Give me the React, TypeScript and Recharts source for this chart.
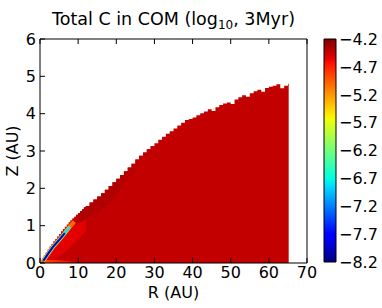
import React from "react";
import { ComposedChart, Area, Line, XAxis, YAxis, BarChart, Bar } from "recharts";

const FONT = "DejaVu Sans, sans-serif";

// axes
const xTicks = [0, 10, 20, 30, 40, 50, 60, 70];
const yTicks = [0, 1, 2, 3, 4, 5, 6];
const cbTicks = [-8.2, -7.7, -7.2, -6.7, -6.2, -5.7, -5.2, -4.7, -4.2];

// upper edge of the filled region (Z in AU at R in AU)
const edgeR = [
  0, 0.5, 1, 1.5, 2, 2.5, 3, 3.5, 4, 4.5, 5, 5.5, 6, 6.5, 7, 7.5, 8, 8.5, 9, 9.5, 10, 10.5, 11, 11.5, 12,
  13, 14, 15, 16, 17, 18, 19, 20, 21, 22, 23, 24, 25, 26, 27, 28, 29, 30, 31, 32, 33, 34, 35, 36, 37, 38,
  39, 40, 41, 42, 43, 44, 45, 46, 47, 48, 49, 50, 51, 52, 53, 54, 55, 56, 57, 58, 59, 60, 61, 62, 63, 64,
  65, 65.2,
];
const edgeZ = [
  0.03, 0.12, 0.2, 0.28, 0.36, 0.44, 0.51, 0.58, 0.64, 0.71, 0.78, 0.85, 0.91, 0.97, 1.03, 1.09, 1.14, 1.19,
  1.24, 1.29, 1.34, 1.39, 1.44, 1.49, 1.53,
  1.62, 1.7, 1.78, 1.87, 1.96, 2.06, 2.16, 2.26, 2.36, 2.46, 2.56, 2.66, 2.77, 2.87, 2.96, 3.05, 3.13, 3.21,
  3.3, 3.38, 3.46, 3.53, 3.6, 3.68, 3.76, 3.83, 3.86, 3.9, 3.96, 4.01, 4.06, 4.12, 4.07, 4.17, 4.23, 4.27,
  4.3, 4.26, 4.38, 4.44, 4.49, 4.45, 4.55, 4.6, 4.64, 4.59, 4.69, 4.72, 4.75, 4.79, 4.68, 4.75, 4.8, 4.8,
];

// darker band hugging the upper edge
const darkR = [8, 8.5, 9, 9.5, 10, 10.5, 11, 11.5, 12, 13, 14, 15, 16, 17, 18, 19, 20, 21, 22, 23, 24, 25, 26, 27, 28, 29, 30];
const darkDepth = [
  0.12, 0.16, 0.2, 0.24, 0.27, 0.3, 0.32, 0.34, 0.36, 0.38, 0.4, 0.4, 0.4, 0.4, 0.4, 0.38, 0.36, 0.34, 0.3,
  0.27, 0.24, 0.2, 0.17, 0.14, 0.1, 0.07, 0.05,
];

// brighter wedge below the inner stripe
const brightR = [0.5, 2, 4, 6, 8, 10, 12];
const brightLo = [0, 0.04, 0.12, 0.25, 0.42, 0.62, 0.85];
const brightHi = [0.1, 0.28, 0.52, 0.74, 0.96, 1.12, 1.3];

// orange glow at the midplane near the origin
const glowR = [0.3, 2, 4, 6, 8, 10];
const glowHi = [0.07, 0.08, 0.08, 0.07, 0.05, 0.03];

// depleted stripe along the inner surface
const stripeR = [0.9, 2, 3.4, 5.2, 6.5, 7.8, 9];
const stripeZ = [0.06, 0.23, 0.43, 0.64, 0.8, 0.97, 1.11];
const stripeLayers = [
  { key: "orange", upTo: 9, color: "#ff6a00", width: 4.2 },
  { key: "yellow", upTo: 7.8, color: "#f2ee00", width: 3.4 },
  { key: "cyan", upTo: 7.8, color: "#10d8ff", width: 2.6 },
  { key: "blue", upTo: 6.5, color: "#0008c0", width: 2 },
];

type Row = { R: number; [k: string]: any };
const rows = new Map<number, Row>();
const put = (r: number, k: string, v: unknown) => {
  const row = rows.get(r) ?? { R: r };
  row[k] = v;
  rows.set(r, row);
};
edgeR.forEach((r, i) => put(r, "top", edgeZ[i]));
darkR.forEach((r, i) => {
  const z = edgeZ[edgeR.indexOf(r)];
  put(r, "dark", [z - darkDepth[i], z]);
});
brightR.forEach((r, i) => put(r, "bright", [brightLo[i], brightHi[i]]));
glowR.forEach((r, i) => put(r, "glow", [0, glowHi[i]]));
stripeR.forEach((r, i) => {
  stripeLayers.forEach((l) => {
    if (r <= l.upTo) put(r, l.key, stripeZ[i]);
  });
});
const table = [...rows.values()].sort((a, b) => a.R - b.R);

const cbData = [{ k: "cb", v: [cbTicks[0], cbTicks[cbTicks.length - 1]] }];

const jetStops: [number, string][] = [
  [0, "#00007f"], [0.11, "#0000ff"], [0.125, "#0000ff"], [0.34, "#00dbff"], [0.35, "#00e5f8"],
  [0.375, "#00ffe2"], [0.64, "#efff08"], [0.65, "#f7f600"], [0.66, "#ffec00"], [0.89, "#ff1300"],
  [0.91, "#e80000"], [1, "#800000"],
];

const txt = { fontFamily: FONT, fontSize: 16, fill: "#000" };
const minus = (v: number) => v.toFixed(1).replace("-", "\u2212");

const BottomTick = ({ x, y, payload }: any) => (
  <g>
    <line x1={x} y1={y} x2={x} y2={y - 5} stroke="#000" />
    <text x={x} y={y + 15} textAnchor="middle" {...txt}>{payload.value}</text>
  </g>
);
const TopTick = ({ x, y }: any) => <line x1={x} y1={y} x2={x} y2={y + 5} stroke="#000" />;
const LeftTick = ({ x, y, payload }: any) => (
  <g>
    <line x1={x} y1={y} x2={x + 5} y2={y} stroke="#000" />
    <text x={x - 4} y={y + 5.8} textAnchor="end" {...txt}>{payload.value}</text>
  </g>
);
const RightTick = ({ x, y }: any) => <line x1={x} y1={y} x2={x - 5} y2={y} stroke="#000" />;
const CbTick = ({ x, y, payload }: any) => (
  <text x={x + 3} y={y + 5.8} textAnchor="start" {...txt}>{minus(payload.value)}</text>
);

const abs: React.CSSProperties = { position: "absolute", left: 0, top: 0 };
const axisBase = { tickSize: 0, tickMargin: 0, tickLine: false, axisLine: { stroke: "#000" }, interval: 0 as const };

export default function App() {
  return (
    <div style={{ ...abs, width: 382, height: 308, background: "#fff", overflow: "hidden" }}>
      <svg width={0} height={0} style={abs}>
        <defs>
          <linearGradient id="jet" x1="0" y1="1" x2="0" y2="0">
            {jetStops.map(([o, c]) => <stop key={o} offset={o} stopColor={c} />)}
          </linearGradient>
          <linearGradient id="darkFade" x1="0" y1="0" x2="1" y2="0">
            <stop offset={0} stopColor="#c20000" />
            <stop offset={0.15} stopColor="#b00000" />
            <stop offset={0.5} stopColor="#b00000" />
            <stop offset={1} stopColor="#c30000" />
          </linearGradient>
          <linearGradient id="glowFade" x1="0" y1="0" x2="1" y2="0">
            <stop offset={0} stopColor="#ff5a00" />
            <stop offset={0.5} stopColor="#ff2000" />
            <stop offset={1} stopColor="#e00000" />
          </linearGradient>
        </defs>
      </svg>

      <div style={abs}>
        <ComposedChart width={382} height={308} data={table} margin={{ top: 38, right: 74, bottom: 44, left: 39 }}>
          <XAxis xAxisId="b" type="number" dataKey="R" domain={[0, 70]} ticks={xTicks} height={1} {...axisBase}
            tick={(p: any) => <BottomTick {...p} />} />
          <XAxis xAxisId="t" orientation="top" type="number" dataKey="R" domain={[0, 70]} ticks={xTicks} height={1}
            {...axisBase} tick={(p: any) => <TopTick {...p} />} />
          <YAxis yAxisId="l" type="number" domain={[0, 6]} ticks={yTicks} width={1} {...axisBase}
            tick={(p: any) => <LeftTick {...p} />} />
          <YAxis yAxisId="r" orientation="right" type="number" domain={[0, 6]} ticks={yTicks} width={1} {...axisBase}
            tick={(p: any) => <RightTick {...p} />} />

          <Area xAxisId="b" yAxisId="l" dataKey="top" type="stepAfter" stroke="none" fill="#c30000" fillOpacity={1}
            connectNulls dot={false} activeDot={false} isAnimationActive={false} />
          <Area xAxisId="b" yAxisId="l" dataKey="bright" type="linear" stroke="none" fill="#e20000" fillOpacity={1}
            connectNulls dot={false} activeDot={false} isAnimationActive={false} />
          <Area xAxisId="b" yAxisId="l" dataKey="dark" type="stepAfter" stroke="none" fill="url(#darkFade)" fillOpacity={1}
            connectNulls dot={false} activeDot={false} isAnimationActive={false} />
          <Area xAxisId="b" yAxisId="l" dataKey="glow" type="linear" stroke="none" fill="url(#glowFade)" fillOpacity={1}
            connectNulls dot={false} activeDot={false} isAnimationActive={false} />
          {stripeLayers.map((l) => (
            <Line key={l.key} xAxisId="b" yAxisId="l" dataKey={l.key} stroke={l.color} strokeWidth={l.width}
              dot={false} activeDot={false} connectNulls isAnimationActive={false} />
          ))}
        </ComposedChart>
      </div>

      <div style={abs}>
        <BarChart width={382} height={308} data={cbData} barCategoryGap={0}
          margin={{ top: 39, right: 45, bottom: 46, left: 324 }}>
          <XAxis dataKey="k" hide />
          <YAxis orientation="right" type="number" domain={[cbTicks[0], cbTicks[cbTicks.length - 1]]} ticks={cbTicks}
            width={1} tickSize={0} tickMargin={0} tickLine={false} axisLine={false} interval={0}
            tick={(p: any) => <CbTick {...p} />} />
          <Bar dataKey="v" fill="url(#jet)" stroke="#000" strokeWidth={1} isAnimationActive={false} />
        </BarChart>
      </div>

      <svg width={382} height={308} style={{ ...abs, pointerEvents: "none" }}>
        <text x={173.5} y={25} textAnchor="middle" fontFamily={FONT} fontSize={17.5} fill="#000">
          Total C in COM (log<tspan fontSize={12} dy={4}>10</tspan><tspan dy={-4}>, 3Myr)</tspan>
        </text>
        <text x={173.5} y={298} textAnchor="middle" {...txt}>R (AU)</text>
        <text x={18} y={151} textAnchor="middle" transform="rotate(-90 18 151)" {...txt}>Z (AU)</text>
      </svg>
    </div>
  );
}
